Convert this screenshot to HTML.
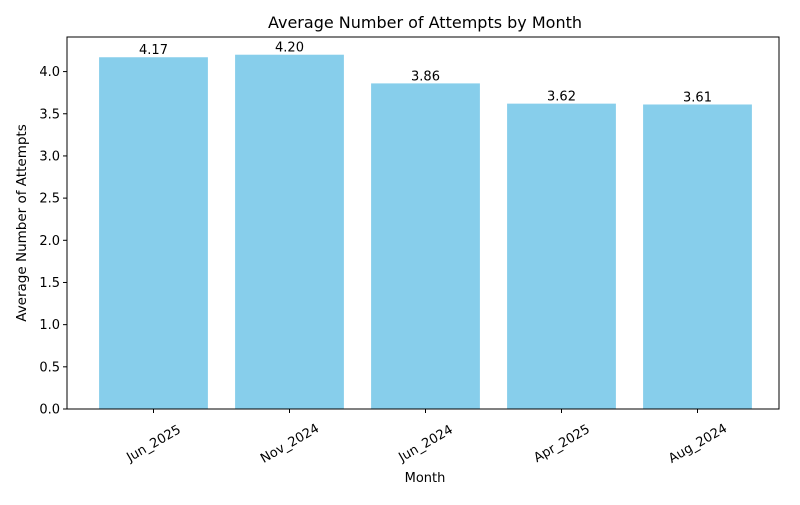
<!DOCTYPE html>
<html><head><meta charset="utf-8"><style>
body{margin:0;background:#fff;font-family:"Liberation Sans","DejaVu Sans",sans-serif;}
svg text{font-family:"DejaVu Sans","Liberation Sans",sans-serif;}
</style></head><body>
<svg id="chart" width="800" height="500" viewBox="0 0 800 500" xmlns="http://www.w3.org/2000/svg">
<rect width="800" height="500" fill="#fff"/>
<text x="425" y="28" font-size="16" text-anchor="middle" fill="#000">Average Number of Attempts by Month</text>
<text x="425" y="482" font-size="13" text-anchor="middle">Month</text>
<text transform="translate(26,223) rotate(-90)" font-size="13.5" text-anchor="middle">Average Number of Attempts</text>
<g id="bars"></g><g id="ticks"></g>
<rect x="67" y="37" width="712" height="372" fill="none" stroke="#000" stroke-width="1"/>
</svg>
<script>
const categories=["Jun_2025","Nov_2024","Jun_2024","Apr_2025","Aug_2024"];
const values=[4.17,4.20,3.86,3.62,3.61];
const labels=["4.17","4.20","3.86","3.62","3.61"];
const yTicks=[0,0.5,1,1.5,2,2.5,3,3.5,4];
const L=67,R=779,T=37,B=409;
const yMax=4.41;
function y(v){return B-v/yMax*(B-T);}
const xmin=-0.636,unit=136;
function x(i){return L+(i-xmin)*unit;}
const NS="http://www.w3.org/2000/svg";
const bars=document.getElementById('bars'),tk=document.getElementById('ticks');
function mk(t,a,p){const e=document.createElementNS(NS,t);for(const k in a)e.setAttribute(k,a[k]);p.appendChild(e);return e;}
const bw=0.8*unit;
categories.forEach((c,i)=>{
 const r=mk('rect',{x:x(i)-bw/2,y:y(values[i]),width:bw,height:B-y(values[i]),fill:'#87ceeb'},bars);
 
 
 const t=mk('text',{x:x(i),y:y(values[i])-3,'font-size':13,'text-anchor':'middle'},bars);t.textContent=labels[i];
 
 
 mk('line',{x1:x(i),x2:x(i),y1:B,y2:B+4,stroke:'#000'},tk);
 const xl=mk('text',{'font-size':13,'text-anchor':'middle',transform:`translate(${x(i)},${B+34}) rotate(-30)`,dy:'0.35em'},tk);xl.textContent=c;
 
 
});
yTicks.forEach(v=>{
 mk('line',{x1:L-4,x2:L,y1:y(v),y2:y(v),stroke:'#000'},tk);
 const t=mk('text',{x:L-7,y:y(v)+4.5,'font-size':13,'text-anchor':'end'},tk);t.textContent=v.toFixed(1);
 
 
});
</script>
</body></html>
